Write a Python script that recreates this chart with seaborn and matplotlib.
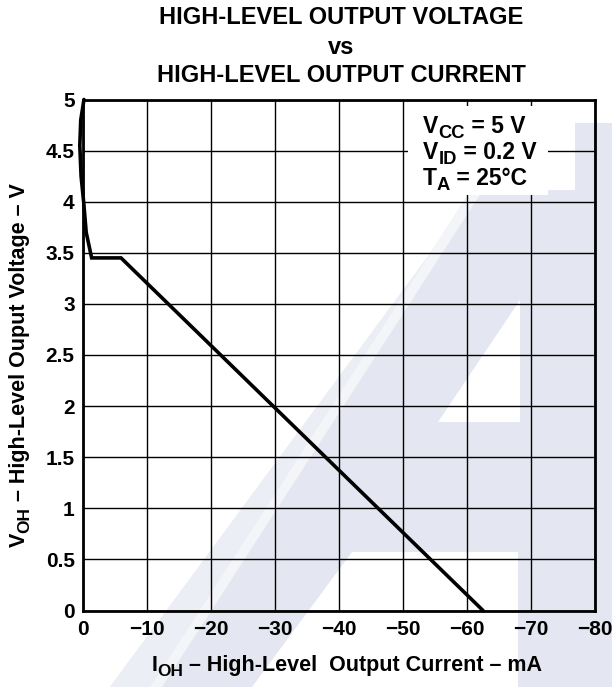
import matplotlib
matplotlib.use("Agg")
import numpy as np
import pandas as pd
import seaborn as sns
import matplotlib.pyplot as plt
from matplotlib.patches import Polygon, Rectangle

# ---- data ----
i_oh_ma = [-0.15, 0.35, 0.5, 0.3, -0.1, -0.5, -1.35, -5.94, -62.5]
v_oh_v = [5.0, 4.8, 4.55, 4.25, 4.0, 3.7, 3.45, 3.45, 0.0]

x_ticks = [0, -10, -20, -30, -40, -50, -60, -70, -80]
x_tick_labels = ["0", "\u221210", "\u221220", "\u221230", "\u221240",
                 "\u221250", "\u221260", "\u221270", "\u221280"]
y_ticks = [0, 0.5, 1, 1.5, 2, 2.5, 3, 3.5, 4, 4.5, 5]
y_tick_labels = ["0", "0.5", "1", "1.5", "2", "2.5", "3", "3.5", "4", "4.5", "5"]

title_lines = ["HIGH-LEVEL OUTPUT VOLTAGE", "vs", "HIGH-LEVEL OUTPUT CURRENT"]
# (main text, subscript, rest)
cond_lines = [("V", "CC", " = 5 V"), ("V", "ID", " = 0.2 V"), ("T", "A", " = 25°C")]
x_label = ("I", "OH", " – High-Level  Output Current – mA")
y_label = ("V", "OH", " – High-Level Ouput Voltage – V")

df = pd.DataFrame({"I_OH": i_oh_ma, "V_OH": v_oh_v})

sns.set_theme(style="white")
plt.rcParams["font.family"] = ["Liberation Sans", "DejaVu Sans"]
plt.rcParams["font.weight"] = "bold"

W, H = 612, 687
fig = plt.figure(figsize=(W / 100, H / 100), dpi=100)
fig.patch.set_facecolor("white")
renderer = fig.canvas.get_renderer()


def fp(pts):
    return [(x / W, 1 - y / H) for x, y in pts]


def sub_text(parts, size, anchor, center=True, rotation=0, sub_scale=0.8, sub_drop=4.5):
    """Draw 'main' + lowered 'sub' + 'rest' as separate text pieces.
    anchor: (x, y) pixel position (top-left origin) of the baseline centre/start."""
    main, sub, rest = parts
    specs = [(main, size, 0.0), (sub, size * sub_scale, sub_drop), (rest, size, 0.0)]
    objs, widths = [], []
    for s, fs, dy in specs:
        t = fig.text(0, 0, s, fontsize=fs, fontweight="bold", color="black",
                     ha="left", va="baseline", rotation=rotation, rotation_mode="anchor")
        bb = t.get_window_extent(renderer)
        widths.append(bb.height if rotation == 90 else bb.width)
        objs.append((t, dy))
    total = sum(widths)
    ax0, ay0 = anchor
    pos = -total / 2 if center else 0.0
    for (t, dy), w in zip(objs, widths):
        if rotation == 90:
            # text runs upward; "down" for subscript is +x
            px, py = ax0 + dy, ay0 - pos
        else:
            px, py = ax0 + pos, ay0 + dy
        t.set_position((px / W, 1 - py / H))
        pos += w


# background watermark (decoration)
wm = "#e4e7f1"
main_shape = [(110, 687), (477, 190), (575, 190), (575, 123), (612, 123),
              (612, 687), (518, 687), (518, 552), (352, 552), (252, 687)]
fig.patches.append(Polygon(fp(main_shape), closed=True, transform=fig.transFigure,
                           facecolor=wm, edgecolor="none", zorder=-3))
light = [(110, 687), (150, 687), (471, 190), (477, 190)]
fig.patches.append(Polygon(fp(light), closed=True, transform=fig.transFigure,
                           facecolor="#ebeef5", edgecolor="none", zorder=-2))
stripe = [(150, 687), (162, 687), (483, 190), (471, 190)]
fig.patches.append(Polygon(fp(stripe), closed=True, transform=fig.transFigure,
                           facecolor="#f4f5f9", edgecolor="none", zorder=-2))
tri = [(520, 300), (438, 422), (520, 422)]
fig.patches.append(Polygon(fp(tri), closed=True, transform=fig.transFigure,
                           facecolor="white", edgecolor="none", zorder=-2))

ax = fig.add_axes([83 / W, 1 - 610.5 / H, 512 / W, 511 / H])
ax.set_facecolor("none")

sns.lineplot(data=df, x="I_OH", y="V_OH", sort=False, estimator=None,
             color="black", linewidth=2.6, ax=ax, zorder=5)
for ln in ax.lines:
    ln.set_clip_on(False)
    ln.set_solid_joinstyle("miter")

ax.set_xlim(0, -80)
ax.set_ylim(0, 5)
ax.set_xticks(x_ticks)
ax.set_xticklabels(x_tick_labels)
ax.set_yticks(y_ticks)
ax.set_yticklabels(y_tick_labels)
ax.tick_params(axis="both", length=0, labelsize=15, labelcolor="black")
ax.tick_params(axis="x", pad=7)
ax.tick_params(axis="y", pad=6)
for lab in ax.get_xticklabels() + ax.get_yticklabels():
    lab.set_fontweight("bold")
ax.set_xlabel("")
ax.set_ylabel("")
ax.grid(True, color="black", linewidth=1.0)
ax.set_axisbelow(True)
for sp in ax.spines.values():
    sp.set_color("black")
    sp.set_linewidth(2.0)
    sp.set_visible(True)

# white box behind operating conditions
ax.add_patch(Rectangle((408 / W, 1 - 195 / H), 140 / W, 89 / H, transform=fig.transFigure,
                       facecolor="white", edgecolor="none", zorder=3))

for parts, yy in zip(cond_lines, [133, 159, 185]):
    sub_text(parts, 16.5, (423, yy), center=False)

for txt, yy in zip(title_lines, [18, 47, 75]):
    fig.text(341 / W, 1 - yy / H, txt, ha="center", va="center", fontsize=17,
             fontweight="bold", color="black")

sub_text(x_label, 15.5, (347, 671), center=True)
sub_text(y_label, 15.5, (25, 365), center=True, rotation=90)

fig.savefig("out.png", dpi=100, facecolor="white")
